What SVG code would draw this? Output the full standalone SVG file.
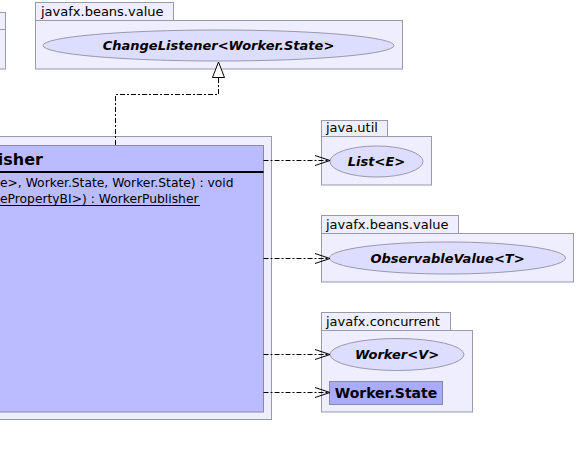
<svg xmlns="http://www.w3.org/2000/svg" width="576" height="458" viewBox="0 0 576 458">
<style>
.pkg{fill:#eeeeff;stroke:#9999aa;stroke-width:1}
.el{fill:#ddddff;stroke:#9999aa;stroke-width:1}
.cls{fill:#bbbbff;stroke:#8888aa;stroke-width:1}
.pl{font-family:"DejaVu Sans",sans-serif;font-size:13px;fill:#000}
.it{font-family:"DejaVu Sans",sans-serif;font-size:13px;font-weight:bold;font-style:oblique;fill:#000;text-anchor:middle}
.m{font-family:"DejaVu Sans",sans-serif;font-size:12.3px;fill:#000}
.dep{fill:none;stroke:#000;stroke-width:1;stroke-dasharray:5,2,2,2}
.ah{fill:none;stroke:#000;stroke-width:1}
</style>
<rect width="576" height="458" fill="#fff"/>
<g id="node-left-partial">
<rect class="pkg" x="-10" y="12.5" width="15.5" height="56.5"/>
<line x1="-10" y1="29.5" x2="5.5" y2="29.5" stroke="#9999aa"/>
</g>
<g id="node-changelistener">
<rect class="pkg" x="35.5" y="2.5" width="138" height="18"/>
<rect class="pkg" x="35.5" y="20.5" width="367" height="48.5"/>
<text class="pl" x="41" y="16">javafx.beans.value</text>
<ellipse class="el" cx="218.5" cy="45.5" rx="175.5" ry="15.5"/>
<text class="it" x="218.5" y="50">ChangeListener&lt;Worker.State&gt;</text>
</g>
<g id="node-workerpublisher">
<rect class="pkg" x="-10" y="136.5" width="281.5" height="283"/>
<rect class="cls" x="-10" y="145.5" width="273.5" height="266.5"/>
<line x1="-10" y1="172" x2="263.5" y2="172" stroke="#000" stroke-width="2"/>
<text x="43" y="165" text-anchor="end" font-family="DejaVu Sans,sans-serif" font-size="16" font-weight="bold">isher</text>
<text class="m" x="0" y="187">e&gt;, Worker.State, Worker.State) : void</text>
<text class="m" x="0" y="203">ePropertyBI&gt;) : WorkerPublisher</text>
<line x1="0" y1="205.5" x2="200" y2="205.5" stroke="#000" stroke-width="1"/>
</g>
<g id="node-list">
<rect class="pkg" x="321.5" y="120.5" width="66" height="16"/>
<rect class="pkg" x="321.5" y="136.5" width="110" height="48.5"/>
<text class="pl" x="326" y="132">java.util</text>
<ellipse class="el" cx="376.5" cy="161.5" rx="46.5" ry="15.5"/>
<text class="it" x="376.5" y="166">List&lt;E&gt;</text>
</g>
<g id="node-observablevalue">
<rect class="pkg" x="321.5" y="215.5" width="137" height="18"/>
<rect class="pkg" x="321.5" y="233.5" width="252" height="48.5"/>
<text class="pl" x="326" y="229">javafx.beans.value</text>
<ellipse class="el" cx="447.5" cy="258" rx="118" ry="16"/>
<text class="it" x="447.5" y="263">ObservableValue&lt;T&gt;</text>
</g>
<g id="node-worker">
<rect class="pkg" x="321.5" y="312.5" width="129" height="18"/>
<rect class="pkg" x="321.5" y="330.5" width="151" height="81.5"/>
<text class="pl" x="326" y="326">javafx.concurrent</text>
<ellipse class="el" cx="397" cy="354.5" rx="67" ry="16"/>
<text class="it" x="397" y="359">Worker&lt;V&gt;</text>
</g>
<g id="node-workerstate">
<rect x="329.5" y="381.5" width="113" height="23" fill="#aaaaff" stroke="#8888aa"/>
<text x="386" y="398" text-anchor="middle" font-family="DejaVu Sans,sans-serif" font-size="14" font-weight="bold">Worker.State</text>
</g>
<g id="connectors">
<polyline class="dep" points="115.5,145 115.5,94.5 218.5,94.5 218.5,78"/>
<polygon points="218.5,62 212.5,77.5 224.5,77.5" fill="#fff" stroke="#000"/>
<line class="dep" x1="263.5" y1="160.5" x2="329" y2="160.5"/>
<polyline class="ah" points="315,155.5 330,160.5 315,165.5"/>
<line class="dep" x1="263.5" y1="258.5" x2="329" y2="258.5"/>
<polyline class="ah" points="315,253.5 330,258.5 315,263.5"/>
<line class="dep" x1="263.5" y1="354.5" x2="329" y2="354.5"/>
<polyline class="ah" points="315,349.5 330,354.5 315,359.5"/>
<line class="dep" x1="263.5" y1="392.5" x2="329" y2="392.5"/>
<polyline class="ah" points="315,387.5 330,392.5 315,397.5"/>
</g>
</svg>
